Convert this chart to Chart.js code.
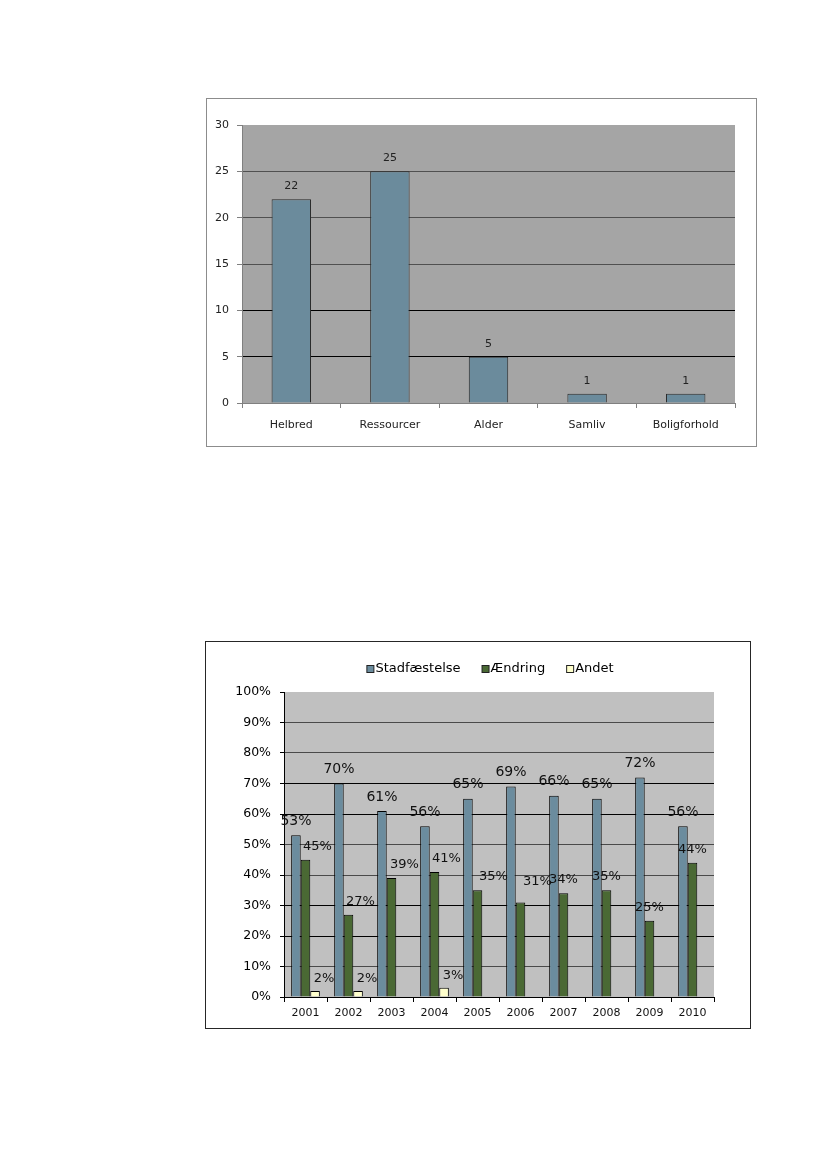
<!DOCTYPE html>
<html><head><meta charset="utf-8">
<script src="https://cdn.jsdelivr.net/npm/chart.js@4.4.1/dist/chart.umd.min.js"></script>
<style>
html,body{margin:0;padding:0;background:#fff;}
body{width:827px;height:1170px;position:relative;overflow:hidden;}
.frame{position:absolute;box-sizing:border-box;background:#fff;}
#f1{left:206px;top:98px;width:551px;height:349px;border:1px solid #8c8c8c;}
#f2{left:205px;top:641px;width:546px;height:388px;border:1px solid #262626;}
canvas{display:block;}
</style></head><body>
<div class="frame" id="f1"><canvas id="c1" width="549" height="347"></canvas></div>
<div class="frame" id="f2"><canvas id="c2" width="544" height="386"></canvas></div>
<script>
// ---- Chart 1 data ----
const reasons = ['Helbred', 'Ressourcer', 'Alder', 'Samliv', 'Boligforhold'];
const reasonCounts = [22, 25, 5, 1, 1];
const countTicks = [0, 5, 10, 15, 20, 25, 30];

// ---- Chart 2 data ----
const years = ['2001', '2002', '2003', '2004', '2005', '2006', '2007', '2008', '2009', '2010'];
const stadfaestelse = [53, 70, 61, 56, 65, 69, 66, 65, 72, 56];
const aendring = [45, 27, 39, 41, 35, 31, 34, 35, 25, 44];
const andet = [2, 2, null, 3, null, null, null, null, null, null];
const pctTicks = [0, 10, 20, 30, 40, 50, 60, 70, 80, 90, 100];
const seriesNames = ['Stadfæstelse', 'Ændring', 'Andet'];

// label placement tweaks (offsets relative to the bar top, px)
const aendringLabelDx = [12, 12, 13, 12, 16, 17, 0, 0, 0, 0];
const aendringLabelDy = [0, 0, 0, 0, 0, -7, 0, 0, 0, 0];

Chart.defaults.font.family = "'DejaVu Sans', Verdana, sans-serif";
Chart.defaults.animation = false;

const plotBg = {
  id: 'plotBg',
  beforeDraw(chart, args, opts) {
    const a = chart.chartArea, ctx = chart.ctx;
    ctx.save();
    ctx.fillStyle = opts.color;
    ctx.fillRect(a.left, a.top, a.right - a.left, a.bottom - a.top);
    ctx.restore();
  }
};

const valueLabels = {
  id: 'valueLabels',
  afterDatasetsDraw(chart, args, opts) {
    const ctx = chart.ctx;
    ctx.save();
    ctx.textAlign = 'center';
    ctx.textBaseline = 'middle';
    (opts.sets || []).forEach((s, i) => {
      const meta = chart.getDatasetMeta(i);
      const data = chart.data.datasets[i].data;
      ctx.font = s.font;
      ctx.fillStyle = s.color;
      meta.data.forEach((el, j) => {
        const v = data[j];
        if (v === null || v === undefined) return;
        const dx = s.dx ? (s.dx[j] || 0) : 0;
        const dy = s.dy ? (s.dy[j] || 0) : 0;
        ctx.fillText(v + (s.suffix || ''), el.x + dx, el.y - s.offset + dy);
      });
    });
    ctx.restore();
  }
};

const boxLegend = {
  id: 'boxLegend',
  afterDraw(chart, args, opts) {
    const ctx = chart.ctx;
    ctx.save();
    ctx.font = opts.font;
    ctx.textBaseline = 'middle';
    const items = chart.data.datasets.map(d => ({ text: d.label, color: d.backgroundColor, w: ctx.measureText(d.label).width }));
    const box = 7, gapBT = 2, gapItems = 21;
    let total = 0;
    items.forEach((it, k) => { total += box + gapBT + it.w + (k ? gapItems : 0); });
    let x = opts.centerX - total / 2;
    const y = opts.y;
    items.forEach(it => {
      ctx.fillStyle = it.color;
      ctx.fillRect(x + 0.5, y - 3.5, box, box);
      ctx.strokeStyle = '#222';
      ctx.lineWidth = 1;
      ctx.strokeRect(x + 0.5, y - 3.5, box, box);
      ctx.fillStyle = '#000';
      ctx.fillText(it.text, x + box + gapBT, y);
      x += box + gapBT + it.w + gapItems;
    });
    ctx.restore();
  }
};

// ---------------- Chart 1 ----------------
new Chart(document.getElementById('c1'), {
  type: 'bar',
  data: {
    labels: reasons,
    datasets: [{
      data: reasonCounts,
      backgroundColor: '#6b8b9c',
      borderColor: '#2a2a2a',
      borderWidth: 1,
      barPercentage: 0.4,
      categoryPercentage: 1.0
    }]
  },
  options: {
    responsive: false,
    layout: { padding: { left: 0, top: 26, right: 21, bottom: 0 } },
    plugins: {
      legend: { display: false },
      tooltip: { enabled: false },
      plotBg: { color: '#a5a5a5' },
      valueLabels: { sets: [{ font: "11px 'DejaVu Sans'", color: '#222', offset: 13 }] }
    },
    scales: {
      x: {
        grid: { offset: true, drawOnChartArea: false, drawTicks: true, tickLength: 5, color: '#808080' },
        border: { color: '#808080' },
        ticks: { font: { size: 11 }, color: '#222', padding: 11 },
        afterFit: s => { s.height = 43; }
      },
      y: {
        min: 0, max: 30,
        afterBuildTicks: s => { s.ticks = countTicks.map(v => ({ value: v })); },
        grid: {
          color: c => (c.tick && (c.tick.value === 5 || c.tick.value === 10)) ? '#000' : (c.tick && c.tick.value === 30 ? 'rgba(0,0,0,0)' : '#505050'),
          tickColor: '#808080',
          tickLength: 5
        },
        border: { color: '#808080' },
        ticks: { font: { size: 11 }, color: '#222', padding: 8 },
        afterFit: s => { s.width = 35; }
      }
    }
  },
  plugins: [plotBg, valueLabels]
});

// ---------------- Chart 2 ----------------
new Chart(document.getElementById('c2'), {
  type: 'bar',
  data: {
    labels: years,
    datasets: [
      { label: seriesNames[0], data: stadfaestelse, backgroundColor: '#6b8c9e', borderColor: '#000', borderWidth: 1 },
      { label: seriesNames[1], data: aendring, backgroundColor: '#4a6934', borderColor: '#000', borderWidth: 1 },
      { label: seriesNames[2], data: andet, backgroundColor: '#ffffcc', borderColor: '#000', borderWidth: 1 }
    ]
  },
  options: {
    responsive: false,
    datasets: { bar: { barPercentage: 1.0, categoryPercentage: 0.667 } },
    layout: { padding: { left: 0, top: 50, right: 36, bottom: 0 } },
    plugins: {
      legend: { display: false },
      tooltip: { enabled: false },
      plotBg: { color: '#c0c0c0' },
      boxLegend: { font: "13px 'DejaVu Sans'", centerX: 284, y: 27 },
      valueLabels: {
        sets: [
          { font: "14px 'DejaVu Sans'", color: '#111', offset: 14, suffix: '%' },
          { font: "13px 'DejaVu Sans'", color: '#111', offset: 13.5, suffix: '%', dx: aendringLabelDx, dy: aendringLabelDy },
          { font: "13px 'DejaVu Sans'", color: '#111', offset: 12, suffix: '%', dx: [9, 9, 0, 9] }
        ]
      }
    },
    scales: {
      x: {
        grid: { offset: true, drawOnChartArea: false, drawTicks: true, tickLength: 5, color: '#000' },
        border: { color: '#000' },
        ticks: { font: { size: 11 }, color: '#111', padding: 5 },
        afterFit: s => { s.height = 31; }
      },
      y: {
        min: 0, max: 100,
        afterBuildTicks: s => { s.ticks = pctTicks.map(v => ({ value: v })); },
        grid: {
          color: c => {
            const v = c.tick ? c.tick.value : -1;
            if (v === 100) return 'rgba(0,0,0,0)';
            return (v === 20 || v === 30 || v === 60 || v === 70) ? '#000' : '#4a4a4a';
          },
          tickColor: '#000',
          tickLength: 4
        },
        border: { color: '#000' },
        ticks: { font: { size: 12.5 }, color: '#000', padding: 9, callback: v => v + '%' },
        afterFit: s => { s.width = 78; }
      }
    }
  },
  plugins: [plotBg, valueLabels, boxLegend]
});
</script>
</body></html>
